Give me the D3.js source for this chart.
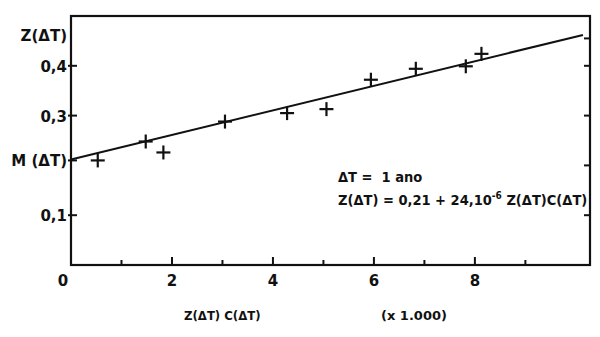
<!DOCTYPE html>
<html>
<head>
<meta charset="utf-8">
<script src="https://cdn.jsdelivr.net/npm/d3@7"></script>
<style>
body { margin: 0; background: #fff; }
text { font-family: "DejaVu Sans", sans-serif; font-weight: bold; fill: #111; }
text.narrow { font-family: "DejaVu Sans Condensed", "DejaVu Sans", sans-serif; }
</style>
</head>
<body>
<svg width="600" height="337"></svg>
<script>
// Z(dT) against Z(dT)C(dT), with fitted line

var point_x = [0.53, 1.48, 1.83, 3.05, 4.28, 5.06, 5.94, 6.83, 7.82, 8.13];
var point_y = [0.210, 0.248, 0.226, 0.288, 0.305, 0.313, 0.372, 0.394, 0.399, 0.424];
var fit_x = [0, 10.14];
var fit_y = [0.212, 0.462];
var x_major = [0, 2, 4, 6, 8];
var x_minor = [1, 3, 5, 7, 9];
var y_ticks = [0.1, 0.21, 0.3, 0.4];
var y_labels = ["0,1", "M (\u0394T)", "0,3", "0,4"];
var y_right_ticks = [0.1, 0.2, 0.3, 0.4, 0.455];

var svg_handle = d3.select("svg");
var m_left = 71, m_right = 590, m_top = 16, m_bottom = 265;

var x = d3.scaleLinear().domain([0, 10.28]).range([m_left, m_right]);
var y = d3.scaleLinear().domain([0, 0.5]).range([m_bottom, m_top]);

var ink = "#111";

// frame
svg_handle.append("rect")
	.attr("x", m_left).attr("y", m_top)
	.attr("width", m_right - m_left).attr("height", m_bottom - m_top)
	.attr("fill", "none").attr("stroke", ink).attr("stroke-width", 2.2);

// x ticks (inside)
svg_handle.append("g").selectAll("line")
	.data(x_major.slice(1))
	.enter().append("line")
	.attr("x1", d => x(d)).attr("x2", d => x(d))
	.attr("y1", m_bottom).attr("y2", m_bottom - 8)
	.attr("stroke", ink).attr("stroke-width", 2);
svg_handle.append("g").selectAll("line")
	.data(x_minor)
	.enter().append("line")
	.attr("x1", d => x(d)).attr("x2", d => x(d))
	.attr("y1", m_bottom).attr("y2", m_bottom - 5)
	.attr("stroke", ink).attr("stroke-width", 2);
svg_handle.append("g").selectAll("text")
	.data(x_major)
	.enter().append("text")
	.attr("x", d => x(d) + (d == 0 ? -8 : 0))
	.attr("y", 286)
	.attr("text-anchor", "middle")
	.attr("font-size", 15)
	.text(d => d);

// y ticks left
svg_handle.append("g").selectAll("line")
	.data(y_ticks)
	.enter().append("line")
	.attr("x1", m_left - 3).attr("x2", m_left + 6)
	.attr("y1", d => y(d)).attr("y2", d => y(d))
	.attr("stroke", ink).attr("stroke-width", 2);
svg_handle.append("g").selectAll("text")
	.data(y_ticks)
	.enter().append("text")
	.attr("x", m_left - 4)
	.attr("y", d => y(d) + 6)
	.attr("text-anchor", "end")
	.attr("font-size", 15)
	.text((d, i) => y_labels[i]);

// y ticks right
svg_handle.append("g").selectAll("line")
	.data(y_right_ticks)
	.enter().append("line")
	.attr("x1", m_right - 6).attr("x2", m_right)
	.attr("y1", d => y(d)).attr("y2", d => y(d))
	.attr("stroke", ink).attr("stroke-width", 2);

// axis titles
svg_handle.append("text")
	.attr("x", m_left - 4).attr("y", 41)
	.attr("text-anchor", "end")
	.attr("font-size", 15)
	.text("Z(\u0394T)");
svg_handle.append("text")
	.attr("class", "narrow")
	.attr("x", 184).attr("y", 320)
	.attr("font-size", 13)
	.text("Z(\u0394T) C(\u0394T)");
svg_handle.append("text")
	.attr("x", 381).attr("y", 320)
	.attr("font-size", 13)
	.text("(x 1.000)");

// fitted line
var line = d3.line().x(d => x(d[0])).y(d => y(d[1]));
svg_handle.append("path")
	.datum(d3.zip(fit_x, fit_y))
	.attr("d", line)
	.attr("fill", "none").attr("stroke", ink).attr("stroke-width", 2);

// crosses
var cross = svg_handle.append("g").selectAll("g")
	.data(d3.zip(point_x, point_y))
	.enter().append("g")
	.attr("transform", d => "translate(" + x(d[0]) + "," + y(d[1]) + ")");
cross.append("line").attr("x1", -7).attr("x2", 7).attr("y1", 0).attr("y2", 0)
	.attr("stroke", ink).attr("stroke-width", 2.2);
cross.append("line").attr("x1", 0).attr("x2", 0).attr("y1", -7).attr("y2", 7)
	.attr("stroke", ink).attr("stroke-width", 2.2);

// annotation
svg_handle.append("text")
	.attr("class", "narrow")
	.attr("x", 338).attr("y", 182)
	.attr("font-size", 14.5)
	.attr("xml:space", "preserve")
	.text("\u0394T =  1 ano");
var eq = svg_handle.append("text")
	.attr("class", "narrow")
	.attr("x", 338).attr("y", 205)
	.attr("font-size", 14.5);
eq.append("tspan").text("Z(\u0394T) = 0,21 + 24,10");
eq.append("tspan").attr("dy", -6).attr("font-size", 10).text("-6");
eq.append("tspan").attr("dy", 6).text(" Z(\u0394T)C(\u0394T)");
</script>
</body>
</html>
